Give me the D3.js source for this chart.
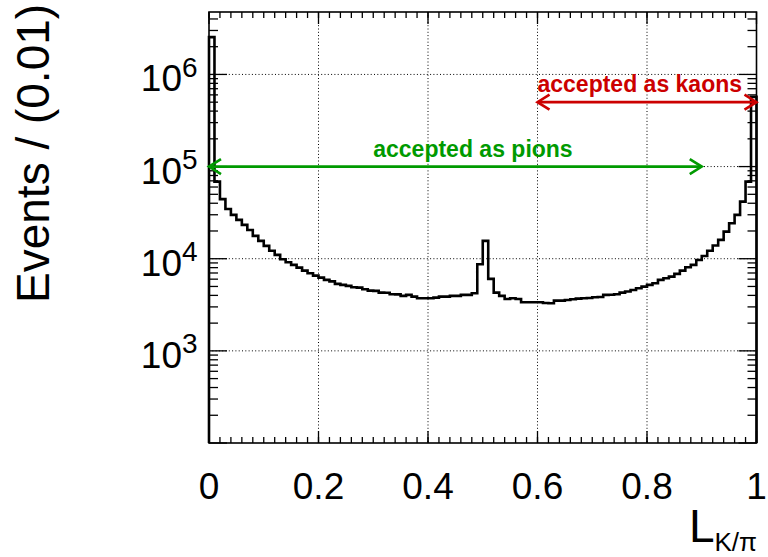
<!DOCTYPE html>
<html><head><meta charset="utf-8">
<script src="https://cdn.jsdelivr.net/npm/d3@7"></script>
<style>body{margin:0;background:#fff}text{font-family:"Liberation Sans",Arial,Helvetica,sans-serif}</style>
</head><body>
<svg id="c" width="768" height="557"></svg>
<script>
// ---- data ----
const binWidth = 0.01;
const counts = [
 2540000, 68700, 44300, 34700, 29900, 26400, 23300, 20500, 17700, 15600,
 13800, 12200, 11000, 9880, 9160, 8570, 8000, 7430, 6960, 6550,
 6240, 5890, 5670, 5330, 5200, 5070, 4910, 4850, 4670, 4500,
 4480, 4290, 4270, 4120, 4100, 3950, 4050, 3880, 3720, 3720,
 3720, 3780, 3880, 3880, 3950, 3950, 4050, 4050, 4220, 8710,
 15600, 6040, 4290, 3950, 3660, 3720, 3660, 3370, 3370, 3370,
 3370, 3310, 3290, 3510, 3510, 3570, 3630, 3690, 3720, 3740,
 3820, 3840, 4050, 4070, 4120, 4290, 4400, 4580, 4780, 4980,
 5200, 5420, 5890, 6140, 6390, 6840, 7430, 8090, 8570, 9700,
 10700, 12200, 13900, 16000, 19700, 24300, 29900, 41700, 68700, 571000
];
const xTickValues = [0, 0.2, 0.4, 0.6, 0.8, 1];
const xTickLabels = ["0", "0.2", "0.4", "0.6", "0.8", "1"];
const yDecades = [1e3, 1e4, 1e5, 1e6];
const yDecadeExp = ["3", "4", "5", "6"];
const yDomain = [100, 4.76e6];
const arrowFrom = [0.0, 0.6];
const arrowTo = [0.9, 1.0];
const arrowLevel = [1e5, 5e5];
const arrowText = ["accepted as pions", "accepted as kaons"];
const textFrom = [0.3, 0.6];
const textLevel = [1.27e5, 6.47e5];
const arrowColor = ["#009a00", "#cc0000"];

// ---- layout ----
const L = 209, R = 756.5, T = 12, B = 443;
const svg = d3.select("#c");
const x = d3.scaleLinear().domain([0, 1]).range([L, R]);
const y = d3.scaleLog().domain(yDomain).range([B, T]);

// grid
const g = svg.append("g");
xTickValues.filter(v => v > 0 && v < 1).forEach(v => {
  g.append("line").attr("x1", x(v)).attr("x2", x(v)).attr("y1", T).attr("y2", B)
   .attr("stroke", "#000").attr("stroke-width", 1).attr("stroke-dasharray", "1,2.3");
});
yDecades.forEach(v => {
  g.append("line").attr("x1", L).attr("x2", R).attr("y1", y(v)).attr("y2", y(v))
   .attr("stroke", "#000").attr("stroke-width", 1).attr("stroke-dasharray", "1,2.3");
});

// minor log ticks
const minorY = [];
for (let d = 100; d < yDomain[1]; d *= 10) {
  for (let k = 2; k <= 9; k++) { const v = k * d; if (v <= yDomain[1]) minorY.push(v); }
}
const majorY = [100].concat(yDecades);
function tickLinesY(vals, len) {
  vals.forEach(v => {
    const yy = y(v);
    svg.append("line").attr("x1", L).attr("x2", L + len).attr("y1", yy).attr("y2", yy).attr("stroke", "#000").attr("stroke-width", 1.3);
    svg.append("line").attr("x1", R).attr("x2", R - len).attr("y1", yy).attr("y2", yy).attr("stroke", "#000").attr("stroke-width", 1.3);
  });
}
tickLinesY(minorY, 9);
tickLinesY(majorY, 18);
const minorX = d3.range(0, 50).map(i => i * 0.02);
function tickLinesX(vals, len) {
  vals.forEach(v => {
    const xx = x(v);
    svg.append("line").attr("x1", xx).attr("x2", xx).attr("y1", B).attr("y2", B - len).attr("stroke", "#000").attr("stroke-width", 1.3);
    svg.append("line").attr("x1", xx).attr("x2", xx).attr("y1", T).attr("y2", T + len).attr("stroke", "#000").attr("stroke-width", 1.3);
  });
}
tickLinesX(minorX, 6);
tickLinesX(xTickValues, 12);

// histogram
const pts = [[0, yDomain[0]]];
counts.forEach((c, i) => { pts.push([i * binWidth, c]); pts.push([(i + 1) * binWidth, c]); });
pts.push([counts.length * binWidth, yDomain[0]]);
svg.append("path").attr("d", d3.line().x(d => x(d[0])).y(d => y(d[1]))(pts))
  .attr("fill", "none").attr("stroke", "#000").attr("stroke-width", 2.6).attr("stroke-linejoin", "miter");

// frame
svg.append("rect").attr("x", L).attr("y", T).attr("width", R - L).attr("height", B - T)
  .attr("fill", "none").attr("stroke", "#000").attr("stroke-width", 1.6);

// x tick labels
xTickValues.forEach((v, i) => {
  svg.append("text").attr("x", x(v)).attr("y", 499).attr("text-anchor", "middle")
    .attr("font-size", 37).text(xTickLabels[i]);
});
// y tick labels
yDecades.forEach((v, i) => {
  const yy = y(v);
  svg.append("text").attr("x", 182).attr("y", yy + 17).attr("text-anchor", "end").attr("font-size", 37).text("10");
  svg.append("text").attr("x", 182).attr("y", yy + 2.5).attr("font-size", 28).text(yDecadeExp[i]);
});

// axis titles
svg.append("text").attr("transform", "translate(49,303) rotate(-90)").attr("font-size", 46).text("Events / (0.01)");
const xt = svg.append("text").attr("x", 757).attr("y", 542).attr("text-anchor", "end").attr("font-size", 46);
xt.append("tspan").text("L");
xt.append("tspan").attr("font-size", 26).attr("dy", 9).text("K/π");

// arrows
arrowFrom.forEach((x0, i) => {
  const col = arrowColor[i], yy = y(arrowLevel[i]);
  const xa = x(x0), xb = x(arrowTo[i]);
  const ag = svg.append("g").attr("stroke", col).attr("stroke-width", 2.6).attr("fill", "none");
  ag.append("line").attr("x1", xa).attr("x2", xb).attr("y1", yy).attr("y2", yy);
  ag.append("path").attr("d", `M${xa + 12},${yy - 7.5}L${xa},${yy}L${xa + 12},${yy + 7.5}`);
  ag.append("path").attr("d", `M${xb - 12},${yy - 7.5}L${xb},${yy}L${xb - 12},${yy + 7.5}`);
  svg.append("text").attr("x", x(textFrom[i])).attr("y", y(textLevel[i])).attr("font-size", 23)
    .attr("font-weight", "bold").attr("fill", col).text(arrowText[i]);
});
</script>
</body></html>
